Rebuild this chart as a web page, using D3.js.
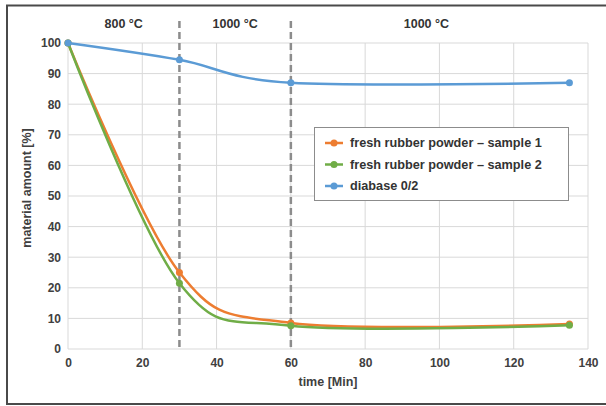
<!DOCTYPE html>
<html>
<head>
<meta charset="utf-8">
<script src="https://cdn.jsdelivr.net/npm/d3@7"></script>
<style>
  body { margin: 0; background: #fff; }
  svg { display: block; font-family: "Liberation Sans", Arial, sans-serif; }
</style>
</head>
<body>
<script>
// data
let times = [0, 30, 60, 135];
let sample1 = [100, 25, 8.5, 8.2];
let sample2 = [100, 21.5, 7.6, 7.8];
let diabase = [100, 94.5, 87, 87];
let seriesNames = ["fresh rubber powder \u2013 sample 1", "fresh rubber powder \u2013 sample 2", "diabase 0/2"];
let seriesColors = ["#ED7D31", "#70AD47", "#5B9BD5"];
let xTicks = [0, 20, 40, 60, 80, 100, 120, 140];
let yTicks = [0, 10, 20, 30, 40, 50, 60, 70, 80, 90, 100];
let phaseBounds = [30, 60];
let phaseLabels = ["800 \u00B0C", "1000 \u00B0C", "1000 \u00B0C"];
let phaseLabelAt = [15, 45, 96.5];

let W = 606, H = 406;
let margin = {top: 43, left: 68, right: 18, bottom: 57};
let width = W - margin.left - margin.right;
let height = H - margin.top - margin.bottom;

let svg = d3.select("body").append("svg")
  .attr("width", W)
  .attr("height", H);

// outer frame (left, top, bottom)
svg.append("path")
  .attr("d", `M${W},5.5 H7 V404 H${W}`)
  .attr("fill", "none")
  .attr("stroke", "#4a4a4a")
  .attr("stroke-width", 2);

let g = svg.append("g")
  .attr("transform", `translate(${margin.left}, ${margin.top})`);

let x = d3.scaleLinear().domain([0, 140]).range([0, width]);
let y = d3.scaleLinear().domain([0, 100]).range([height, 0]);

// grid
g.append("g").selectAll("line")
  .data(yTicks).enter().append("line")
  .attr("x1", 0).attr("x2", width)
  .attr("y1", d => y(d)).attr("y2", d => y(d))
  .attr("stroke", "#d9d9d9").attr("stroke-width", 1);
g.append("g").selectAll("line")
  .data(xTicks).enter().append("line")
  .attr("x1", d => x(d)).attr("x2", d => x(d))
  .attr("y1", 0).attr("y2", height)
  .attr("stroke", "#d9d9d9").attr("stroke-width", 1);

// axes (labels only)
let xAxis = g.append("g")
  .attr("transform", `translate(0, ${height})`)
  .call(d3.axisBottom(x).tickValues(xTicks).tickSize(0).tickPadding(9));
let yAxis = g.append("g")
  .call(d3.axisLeft(y).tickValues(yTicks).tickSize(0).tickPadding(7));
[xAxis, yAxis].forEach(a => {
  a.select(".domain").remove();
  a.selectAll("text")
    .attr("font-family", "Liberation Sans, Arial, sans-serif")
    .attr("font-size", 12)
    .attr("font-weight", "bold")
    .attr("fill", "#404040");
});

// phase boundaries
g.selectAll(".phase")
  .data(phaseBounds).enter().append("line")
  .attr("class", "phase")
  .attr("x1", d => x(d)).attr("x2", d => x(d))
  .attr("y1", -22).attr("y2", height)
  .attr("stroke", "#8c8c8c")
  .attr("stroke-width", 2.5)
  .attr("stroke-dasharray", "7,4");

g.selectAll(".phaseLabel")
  .data(phaseLabels).enter().append("text")
  .attr("class", "phaseLabel")
  .attr("x", (d, i) => x(phaseLabelAt[i]))
  .attr("y", -15)
  .attr("text-anchor", "middle")
  .attr("font-size", 12.5)
  .attr("font-weight", "bold")
  .attr("fill", "#333")
  .text(d => d);

// series
let series = [sample1, sample2, diabase].map((vals, i) => ({
  name: seriesNames[i],
  color: seriesColors[i],
  points: times.map((t, j) => ({t: t, v: vals[j]}))
}));

let line = d3.line()
  .x(d => x(d.t))
  .y(d => y(d.v))
  .curve(d3.curveCardinal.tension(0));

let sg = g.selectAll(".series")
  .data(series).enter().append("g")
  .attr("class", "series");

sg.append("path")
  .attr("d", d => line(d.points))
  .attr("fill", "none")
  .attr("stroke", d => d.color)
  .attr("stroke-width", 2.5);

sg.each(function(s) {
  d3.select(this).selectAll("circle")
    .data(s.points).enter().append("circle")
    .attr("cx", d => x(d.t))
    .attr("cy", d => y(d.v))
    .attr("r", 3.5)
    .attr("fill", s.color);
});

// axis titles
svg.append("text")
  .attr("x", margin.left + width / 2)
  .attr("y", 386)
  .attr("text-anchor", "middle")
  .attr("font-size", 12.5)
  .attr("font-weight", "bold")
  .attr("fill", "#404040")
  .text("time [Min]");

svg.append("text")
  .attr("transform", "translate(31, 188) rotate(-90)")
  .attr("text-anchor", "middle")
  .attr("font-size", 12.5)
  .attr("font-weight", "bold")
  .attr("fill", "#404040")
  .text("material amount [%]");

// legend
let legend = svg.append("g").attr("transform", "translate(314, 127)");
legend.append("rect")
  .attr("x", 0.5).attr("y", 0.5)
  .attr("width", 254).attr("height", 73)
  .attr("fill", "#fff")
  .attr("stroke", "#8c8c8c")
  .attr("stroke-width", 1);

let items = legend.selectAll(".item")
  .data(series).enter().append("g")
  .attr("class", "item")
  .attr("transform", (d, i) => `translate(0, ${16 + i * 21.5})`);
items.append("line")
  .attr("x1", 11).attr("x2", 29)
  .attr("stroke", d => d.color)
  .attr("stroke-width", 2.5);
items.append("circle")
  .attr("cx", 20).attr("r", 3.5)
  .attr("fill", d => d.color);
items.append("text")
  .attr("x", 36)
  .attr("dy", "0.35em")
  .attr("font-size", 12.7)
  .attr("font-weight", "bold")
  .attr("fill", "#333")
  .text(d => d.name);
</script>
</body>
</html>
